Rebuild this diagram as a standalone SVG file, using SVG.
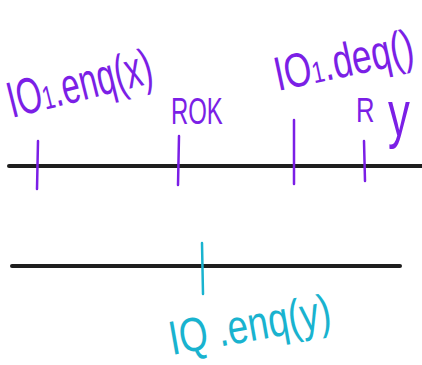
<svg xmlns="http://www.w3.org/2000/svg" width="422" height="365" viewBox="0 0 422 365">
<style>
.line{stroke:#1e1e1e;stroke-width:4;stroke-linecap:round;fill:none}
.tp{stroke:#7b1fe6;stroke-width:2.5;stroke-linecap:round;fill:none}
.tc{stroke:#19b3cf;stroke-width:2.5;stroke-linecap:round;fill:none}
.p{fill:#7b1fe6;font-family:"Liberation Sans",Arial,sans-serif}
.c{fill:#19b3cf;font-family:"Liberation Sans",Arial,sans-serif}
</style>
<rect width="422" height="365" fill="#ffffff"/>
<g id="connectors">
<line class="line" x1="9" y1="166" x2="422" y2="166"/>
<line class="line" x1="12" y1="266" x2="400" y2="266"/>
</g>
<g id="tick-enq-x"><line class="tp" x1="38" y1="141" x2="37" y2="189"/></g>
<g id="tick-rok"><line class="tp" x1="179" y1="136" x2="178" y2="185"/></g>
<g id="tick-deq"><line class="tp" x1="294" y1="120" x2="294" y2="184"/></g>
<g id="tick-ry"><line class="tp" x1="364" y1="141" x2="365" y2="181"/></g>
<g id="tick-enq-y"><line class="tc" x1="202" y1="243" x2="203" y2="294"/></g>
<g id="label-enq-x"><text class="p" font-size="34" transform="translate(12,118) rotate(-14) scale(0.96,1.5)">IO<tspan font-size="22">1</tspan>.enq(x)</text></g>
<g id="label-rok"><text class="p" font-size="26" transform="translate(171,124) scale(0.92,1.45)">ROK</text></g>
<g id="label-deq"><text class="p" font-size="32" transform="translate(278,91) rotate(-12) scale(1.1,1.5)">IO<tspan font-size="20">1</tspan>.deq()</text></g>
<g id="label-r"><text class="p" font-size="27" transform="translate(356,122) scale(0.95,1.3)">R</text></g>
<g id="label-y"><text class="p" font-size="46" transform="translate(388,136) scale(0.95,1.4)">y</text></g>
<g id="label-enq-y"><text class="c" font-size="32" transform="translate(172,355) rotate(-10) scale(1.15,1.5)">IQ .enq(y)</text></g>
</svg>
